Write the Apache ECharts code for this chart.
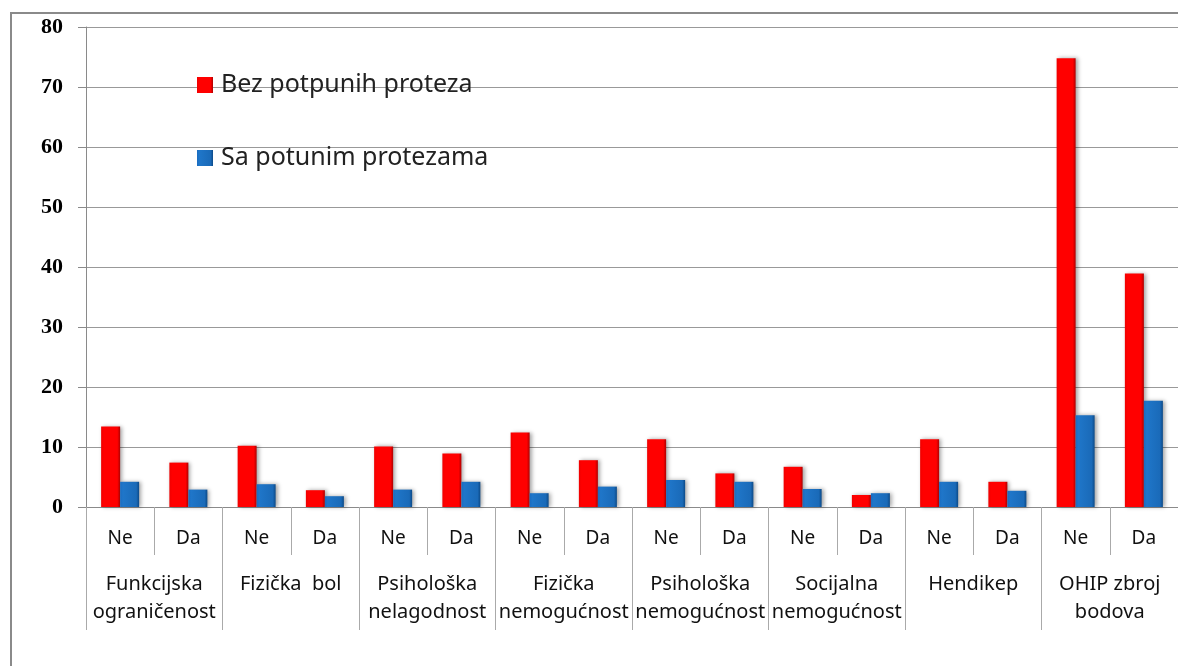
<!DOCTYPE html>
<html>
<head>
<meta charset="utf-8">
<script src="https://cdn.jsdelivr.net/npm/echarts@6/dist/echarts.min.js"></script>
<style>
  html, body { margin: 0; padding: 0; background: #fff; }
  #chart { width: 1178px; height: 666px; }
</style>
</head>
<body>
<div id="chart"></div>
<script>
// podaci
const subLabels = ['Ne', 'Da', 'Ne', 'Da', 'Ne', 'Da', 'Ne', 'Da', 'Ne', 'Da', 'Ne', 'Da', 'Ne', 'Da', 'Ne', 'Da']
const groupLabels = [
  'Funkcijska\nograničenost', 'Fizička  bol', 'Psihološka\nnelagodnost', 'Fizička\nnemogućnost',
  'Psihološka\nnemogućnost', 'Socijalna\nnemogućnost', 'Hendikep', 'OHIP zbroj\nbodova'
]
const bezProteza = [13.4, 7.4, 10.2, 2.8, 10.1, 8.9, 12.4, 7.8, 11.3, 5.6, 6.7, 2.0, 11.3, 4.2, 74.8, 38.9]
const saProtezama = [4.2, 2.9, 3.8, 1.8, 2.9, 4.2, 2.3, 3.4, 4.5, 4.2, 3.0, 2.3, 4.2, 2.7, 15.3, 17.7]
const yTicks = [0, 10, 20, 30, 40, 50, 60, 70, 80]

const font = 'Noto Sans'

const redFill = new echarts.graphic.LinearGradient(0, 0, 1, 0, [
  { offset: 0, color: '#f00000' },
  { offset: 0.15, color: '#ff0000' },
  { offset: 0.85, color: '#ff0000' },
  { offset: 1, color: '#b00000' }
])
const blueFill = new echarts.graphic.LinearGradient(0, 0, 1, 0, [
  { offset: 0, color: '#1a6cc0' },
  { offset: 0.15, color: '#1f76c9' },
  { offset: 0.85, color: '#1a6ab8' },
  { offset: 1, color: '#0c4a88' }
])

const chart = echarts.init(document.getElementById('chart'))
chart.setOption({
  animation: false,
  graphic: [{
    type: 'polyline',
    shape: { points: [[11, 666], [11, 13], [1178, 13]] },
    style: { stroke: '#8a8a8a', lineWidth: 2, fill: null },
    silent: true
  }],
  legend: {
    orient: 'vertical',
    left: 192,
    top: 66,
    itemGap: 45,
    itemWidth: 16,
    itemHeight: 16,
    icon: 'rect',
    textStyle: { fontFamily: font, fontSize: 25, color: '#222', lineHeight: 28, padding: [0, 0, 0, 3] },
    data: ['Bez potpunih proteza', 'Sa potunim protezama']
  },
  grid: { left: 86, top: 27, width: 1104, height: 480 },
  xAxis: [{
    type: 'category',
    data: subLabels,
    position: 'bottom',
    axisLine: { lineStyle: { color: '#8a8a8a', width: 1 } },
    axisTick: { show: true, length: 48, interval: 0, lineStyle: { color: '#aaa' } },
    axisLabel: { interval: 0, margin: 22, fontFamily: font, fontSize: 19, color: '#111' }
  }, {
    type: 'category',
    data: groupLabels,
    position: 'bottom',
    axisLine: { show: false },
    axisTick: { show: true, length: 123, interval: 0, lineStyle: { color: '#aaa' } },
    axisLabel: { interval: 0, margin: 63, fontFamily: font, fontSize: 20, lineHeight: 28, color: '#111' }
  }],
  yAxis: {
    type: 'value',
    min: 0,
    max: 80,
    interval: 10,
    axisLine: { show: true, lineStyle: { color: '#8a8a8a' } },
    axisTick: { show: true, length: 8, lineStyle: { color: '#8a8a8a' } },
    splitLine: { lineStyle: { color: '#999' } },
    axisLabel: {
      margin: 23,
      fontFamily: 'Liberation Serif',
      fontSize: 22,
      fontWeight: 'bold',
      color: '#000',
      formatter: v => yTicks.includes(v) ? String(v) : ''
    }
  },
  series: [{
    name: 'Bez potpunih proteza',
    type: 'bar',
    data: bezProteza,
    barWidth: 19,
    barGap: '0%',
    itemStyle: { color: redFill, shadowColor: 'rgba(0,0,0,0.35)', shadowBlur: 4, shadowOffsetX: 2 }
  }, {
    name: 'Sa potunim protezama',
    type: 'bar',
    data: saProtezama,
    barWidth: 19,
    itemStyle: { color: blueFill, shadowColor: 'rgba(0,0,0,0.35)', shadowBlur: 4, shadowOffsetX: 2 }
  }]
})
</script>
</body>
</html>
